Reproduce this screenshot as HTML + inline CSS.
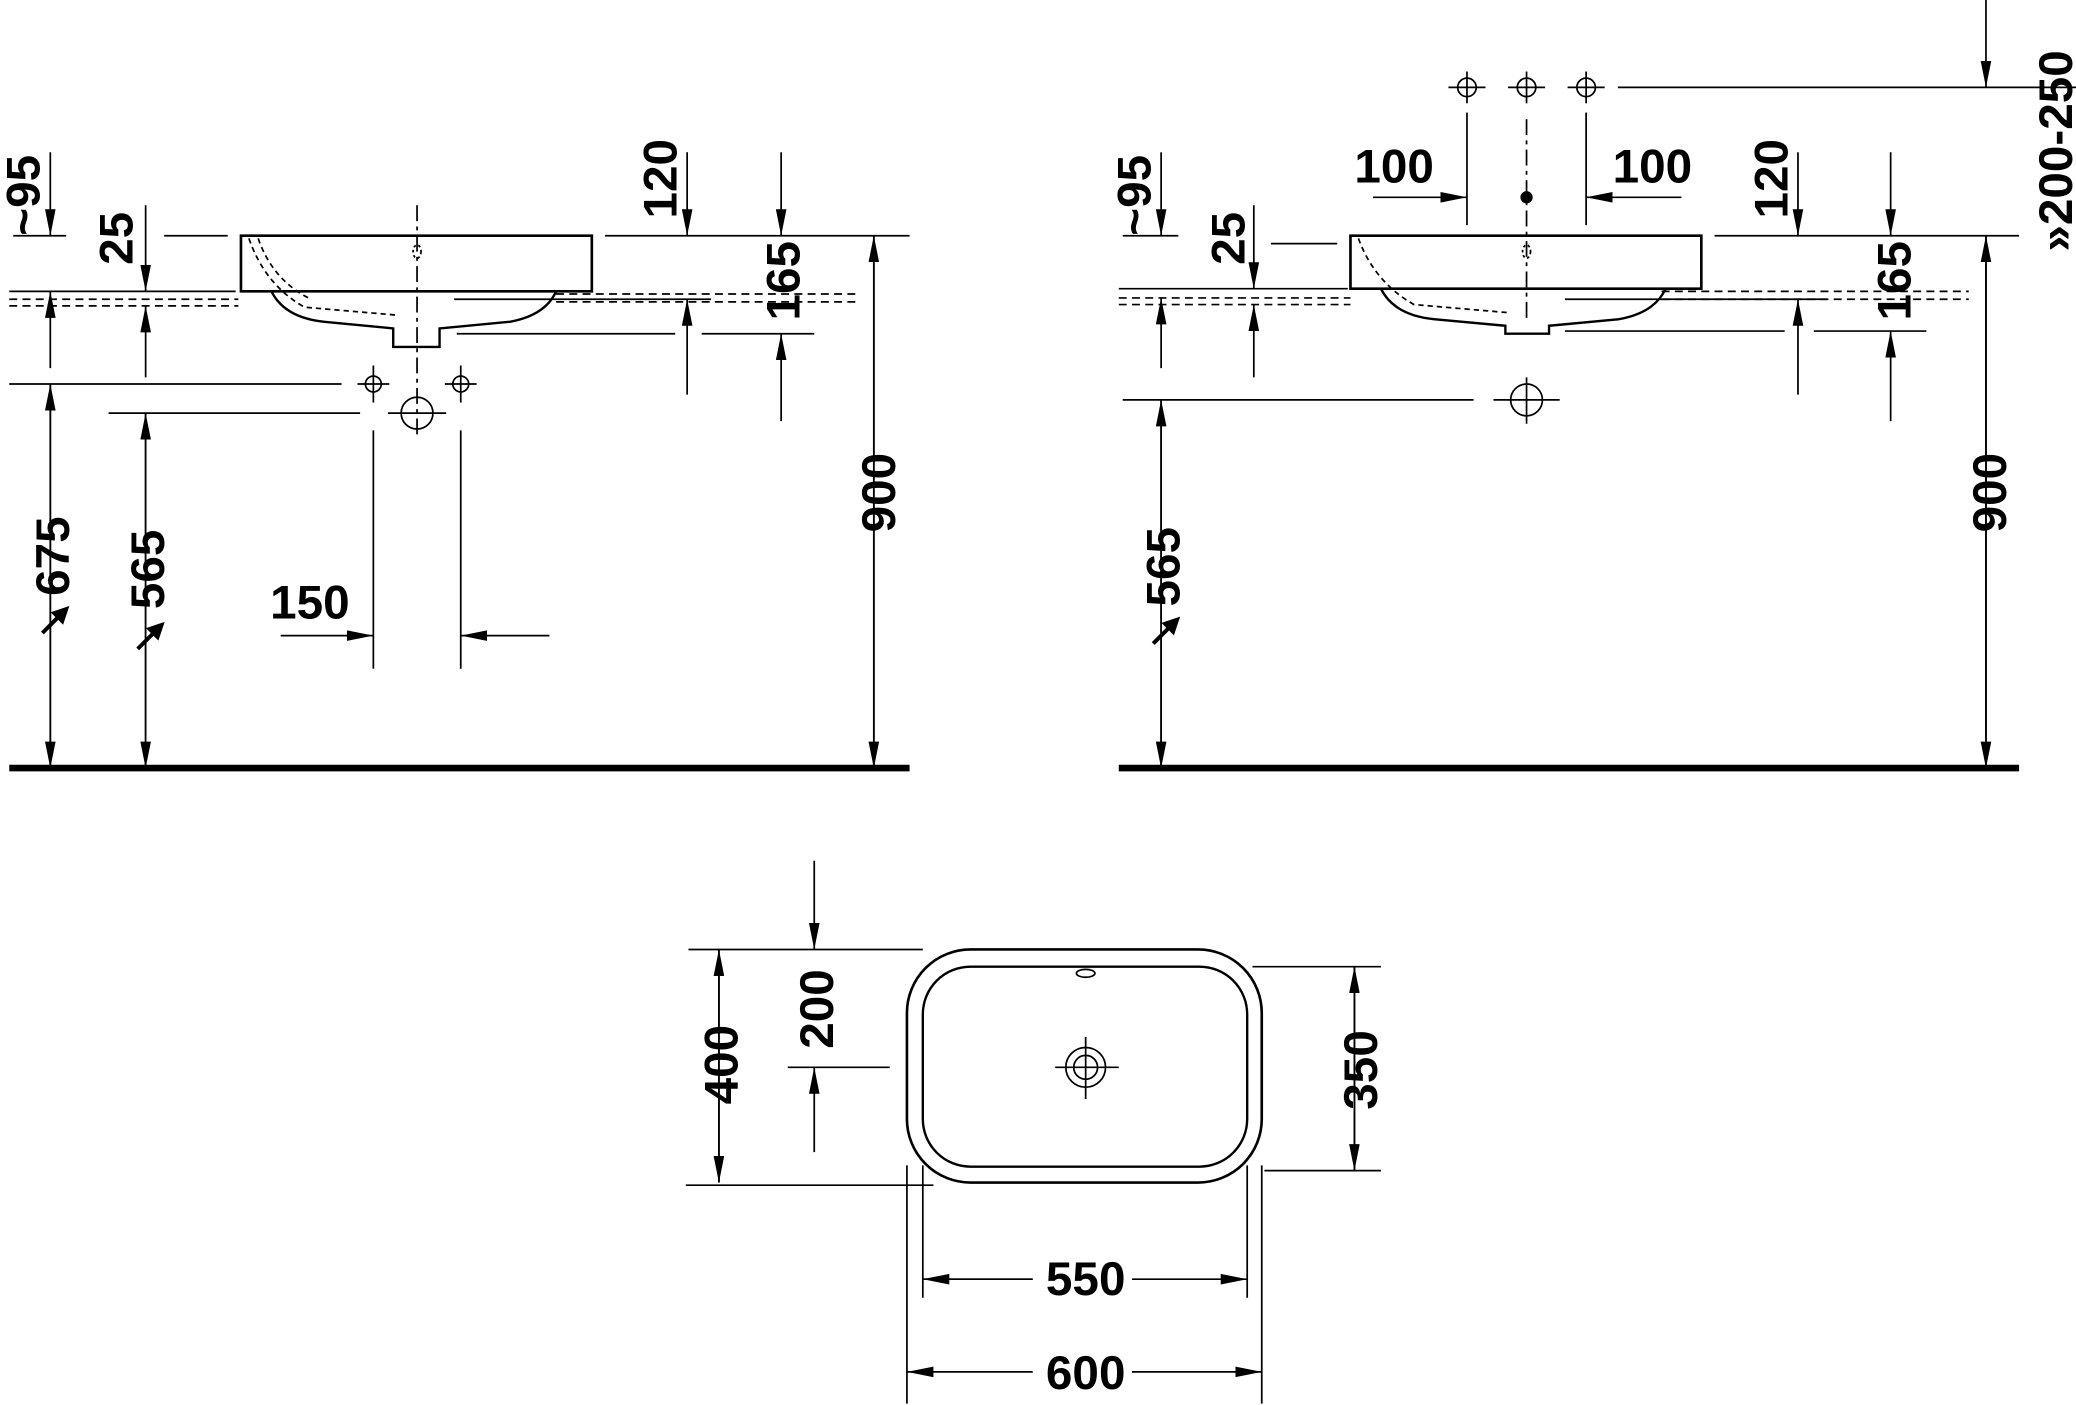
<!DOCTYPE html>
<html><head><meta charset="utf-8"><style>
html,body{margin:0;padding:0;background:#fff}
svg{display:block}
text{font-family:"Liberation Sans Narrow","Liberation Sans",sans-serif;font-weight:bold;font-size:36px;fill:#000}
</style></head><body>
<svg width="2076" height="1405" viewBox="0 0 1568 1061" preserveAspectRatio="none" xmlns="http://www.w3.org/2000/svg">
<defs>
<marker id="a" viewBox="0 0 20 8" refX="20" refY="4" markerWidth="20" markerHeight="8" markerUnits="userSpaceOnUse" orient="auto"><path d="M0,0 L20,4 L0,8 Z" fill="#000"/></marker>
</defs>
<g stroke="#000" stroke-width="1.3" fill="none">
<!-- ===== LEFT VIEW ===== -->
<line x1="7" y1="580" x2="687" y2="580" stroke-width="5"/>
<path d="M182,178 H447 V220 H182 Z" stroke-width="2"/>
<path d="M205,220 Q215,240 245,243 L297,248 V262 H332 V248 L385,243 Q412,238 420,220" stroke-width="1.8"/>
<path d="M188,180 Q200,215 230,232 L300,238" stroke-dasharray="4,3"/>
<path d="M195,180 Q206,212 235,226" stroke-dasharray="4,3"/>
<line x1="315" y1="155" x2="315" y2="330" stroke-dasharray="12,4,3,4"/>
<ellipse cx="315" cy="190" rx="3" ry="5" stroke-dasharray="2,2"/>
<line x1="10" y1="178" x2="50" y2="178"/><line x1="124" y1="178" x2="172" y2="178"/>
<line x1="457" y1="178" x2="687" y2="178"/>
<line x1="7" y1="220" x2="178" y2="220"/>
<line x1="7" y1="226" x2="180" y2="226" stroke-dasharray="6,4"/>
<line x1="7" y1="231" x2="180" y2="231" stroke-dasharray="6,4"/>
<line x1="420" y1="222" x2="648" y2="222" stroke-dasharray="6,4"/>
<line x1="420" y1="228" x2="648" y2="228" stroke-dasharray="6,4"/>
<line x1="343" y1="226" x2="537" y2="226"/>
<line x1="345" y1="252" x2="510" y2="252"/><line x1="530" y1="252" x2="615" y2="252"/>
<line x1="7" y1="290" x2="258" y2="290"/>
<line x1="82" y1="312" x2="272" y2="312"/>
<circle cx="282" cy="290" r="6"/><line x1="270" y1="290" x2="294" y2="290"/><line x1="282" y1="276" x2="282" y2="304"/>
<circle cx="348" cy="290" r="6"/><line x1="336" y1="290" x2="360" y2="290"/><line x1="348" y1="276" x2="348" y2="304"/>
<circle cx="315" cy="312" r="12"/><line x1="293" y1="312" x2="337" y2="312"/>
<line x1="282" y1="325" x2="282" y2="505"/><line x1="348" y1="325" x2="348" y2="505"/>
<line x1="212" y1="480" x2="282" y2="480" marker-end="url(#a)"/>
<line x1="415" y1="480" x2="348" y2="480" marker-end="url(#a)"/>
<line x1="38" y1="115" x2="38" y2="178" marker-end="url(#a)"/>
<line x1="38" y1="278" x2="38" y2="220" marker-end="url(#a)"/>
<line x1="38" y1="580" x2="38" y2="290" marker-end="url(#a)"/>
<line x1="38" y1="290" x2="38" y2="580" marker-end="url(#a)"/>
<line x1="110" y1="155" x2="110" y2="220" marker-end="url(#a)"/>
<line x1="110" y1="285" x2="110" y2="231" marker-end="url(#a)"/>
<line x1="110" y1="580" x2="110" y2="312" marker-end="url(#a)"/>
<line x1="110" y1="312" x2="110" y2="580" marker-end="url(#a)"/>
<line x1="519" y1="115" x2="519" y2="178" marker-end="url(#a)"/>
<line x1="519" y1="298" x2="519" y2="226" marker-end="url(#a)"/>
<line x1="590" y1="115" x2="590" y2="178" marker-end="url(#a)"/>
<line x1="590" y1="318" x2="590" y2="252" marker-end="url(#a)"/>
<line x1="660" y1="580" x2="660" y2="178" marker-end="url(#a)"/>
<line x1="660" y1="178" x2="660" y2="580" marker-end="url(#a)"/>
<!-- ===== RIGHT VIEW ===== -->
<line x1="845" y1="580" x2="1525" y2="580" stroke-width="5"/>
<path d="M1020,178 H1285 V218 H1020 Z" stroke-width="2"/>
<path d="M1043,218 Q1053,238 1083,241 L1137,246 V252 H1170 V246 L1223,241 Q1250,236 1258,218" stroke-width="1.8"/>
<path d="M1026,180 Q1038,213 1068,230 L1138,236" stroke-dasharray="4,3"/>
<line x1="1153" y1="90" x2="1153" y2="240" stroke-dasharray="12,4,3,4"/>
<ellipse cx="1153" cy="190" rx="3" ry="5" stroke-dasharray="2,2"/>
<line x1="848" y1="178" x2="890" y2="178"/><line x1="960" y1="184" x2="1010" y2="184"/>
<line x1="1295" y1="178" x2="1525" y2="178"/>
<line x1="845" y1="218" x2="1018" y2="218"/>
<line x1="845" y1="225" x2="1020" y2="225" stroke-dasharray="6,4"/>
<line x1="845" y1="230" x2="1020" y2="230" stroke-dasharray="6,4"/>
<line x1="1255" y1="220" x2="1487" y2="220" stroke-dasharray="6,4"/>
<line x1="1255" y1="226" x2="1487" y2="226" stroke-dasharray="6,4"/>
<line x1="1182" y1="226" x2="1380" y2="226"/>
<line x1="1182" y1="250" x2="1348" y2="250"/><line x1="1370" y1="250" x2="1455" y2="250"/>
<line x1="848" y1="302" x2="1113" y2="302"/>
<circle cx="1153" cy="302" r="12"/><line x1="1128" y1="302" x2="1178" y2="302"/><line x1="1153" y1="285" x2="1153" y2="320"/>
<circle cx="1108" cy="66" r="7"/><line x1="1094" y1="66" x2="1122" y2="66"/><line x1="1108" y1="54" x2="1108" y2="78"/>
<circle cx="1153" cy="66" r="7"/><line x1="1139" y1="66" x2="1167" y2="66"/><line x1="1153" y1="54" x2="1153" y2="78"/>
<circle cx="1198" cy="66" r="7"/><line x1="1184" y1="66" x2="1212" y2="66"/><line x1="1198" y1="54" x2="1198" y2="78"/>
<line x1="1222" y1="66" x2="1568" y2="66"/>
<line x1="1500" y1="0" x2="1500" y2="66" marker-end="url(#a)"/>
<line x1="1108" y1="85" x2="1108" y2="170"/><line x1="1198" y1="85" x2="1198" y2="170"/>
<line x1="1037" y1="149" x2="1108" y2="149" marker-end="url(#a)"/>
<line x1="1270" y1="149" x2="1198" y2="149" marker-end="url(#a)"/>
<circle cx="1153" cy="149" r="4" fill="#000"/>
<line x1="877" y1="115" x2="877" y2="178" marker-end="url(#a)"/>
<line x1="877" y1="278" x2="877" y2="225" marker-end="url(#a)"/>
<line x1="947" y1="155" x2="947" y2="218" marker-end="url(#a)"/>
<line x1="947" y1="285" x2="947" y2="230" marker-end="url(#a)"/>
<line x1="877" y1="580" x2="877" y2="302" marker-end="url(#a)"/>
<line x1="877" y1="302" x2="877" y2="580" marker-end="url(#a)"/>
<line x1="1358" y1="115" x2="1358" y2="178" marker-end="url(#a)"/>
<line x1="1358" y1="298" x2="1358" y2="226" marker-end="url(#a)"/>
<line x1="1428" y1="115" x2="1428" y2="178" marker-end="url(#a)"/>
<line x1="1428" y1="318" x2="1428" y2="250" marker-end="url(#a)"/>
<line x1="1500" y1="580" x2="1500" y2="178" marker-end="url(#a)"/>
<line x1="1500" y1="178" x2="1500" y2="580" marker-end="url(#a)"/>
<!-- ===== TOP VIEW ===== -->
<rect x="685" y="717" width="268" height="176" rx="48" stroke-width="2"/>
<rect x="697" y="730" width="245" height="151" rx="36" stroke-width="1.8"/>
<ellipse cx="820" cy="735" rx="7" ry="3"/>
<circle cx="820" cy="806" r="15"/><circle cx="820" cy="806" r="9"/>
<line x1="797" y1="806" x2="845" y2="806"/><line x1="820" y1="783" x2="820" y2="830"/>
<line x1="520" y1="717" x2="697" y2="717"/><line x1="518" y1="895" x2="705" y2="895"/>
<line x1="543" y1="893" x2="543" y2="717" marker-end="url(#a)"/>
<line x1="543" y1="717" x2="543" y2="893" marker-end="url(#a)"/>
<line x1="615" y1="650" x2="615" y2="717" marker-end="url(#a)"/>
<line x1="615" y1="870" x2="615" y2="806" marker-end="url(#a)"/>
<line x1="595" y1="806" x2="672" y2="806"/>
<line x1="946" y1="730" x2="1043" y2="730"/><line x1="955" y1="884" x2="1043" y2="884"/>
<line x1="1023" y1="884" x2="1023" y2="730" marker-end="url(#a)"/>
<line x1="1023" y1="730" x2="1023" y2="884" marker-end="url(#a)"/>
<line x1="697" y1="880" x2="697" y2="980"/><line x1="942" y1="880" x2="942" y2="980"/>
<line x1="697" y1="966" x2="780" y2="966" marker-start="none"/>
<line x1="780" y1="966" x2="697" y2="966" marker-end="url(#a)"/>
<line x1="855" y1="966" x2="942" y2="966" marker-end="url(#a)"/>
<line x1="685" y1="880" x2="685" y2="1060"/><line x1="953" y1="880" x2="953" y2="1060"/>
<line x1="780" y1="1036" x2="685" y2="1036" marker-end="url(#a)"/>
<line x1="855" y1="1036" x2="953" y2="1036" marker-end="url(#a)"/>
</g>
<!-- small arrow icons -->
<g fill="#000">
<path d="M32,478 L44,466 L41,463 L50,460 L47,469 L44,466" stroke="#000" stroke-width="3"/>
<path d="M104,490 L116,478 L113,475 L122,472 L119,481 L116,478" stroke="#000" stroke-width="3"/>
<path d="M871,486 L883,474 L880,471 L889,468 L886,477 L883,474" stroke="#000" stroke-width="3"/>
</g>
<!-- texts -->
<g>
<text transform="translate(30,178) rotate(-90)">~95</text>
<text transform="translate(100,200) rotate(-90)">25</text>
<text transform="translate(511,165) rotate(-90)">120</text>
<text transform="translate(604,242) rotate(-90)">165</text>
<text transform="translate(52,450) rotate(-90)">675</text>
<text transform="translate(124,460) rotate(-90)">565</text>
<text transform="translate(676,402) rotate(-90)">900</text>
<text x="204" y="467">150</text>
<text transform="translate(869,178) rotate(-90)">~95</text>
<text transform="translate(940,200) rotate(-90)">25</text>
<text transform="translate(1350,165) rotate(-90)">120</text>
<text transform="translate(1443,242) rotate(-90)">165</text>
<text transform="translate(891,458) rotate(-90)">565</text>
<text transform="translate(1515,402) rotate(-90)">900</text>
<text transform="translate(1565,190) rotate(-90)">»200-250</text>
<text x="1023" y="138">100</text>
<text x="1218" y="138">100</text>
<text transform="translate(557,834) rotate(-90)">400</text>
<text transform="translate(629,792) rotate(-90)">200</text>
<text transform="translate(1040,838) rotate(-90)">350</text>
<text x="790" y="978">550</text>
<text x="790" y="1049">600</text>
</g>
</svg>
</body></html>
